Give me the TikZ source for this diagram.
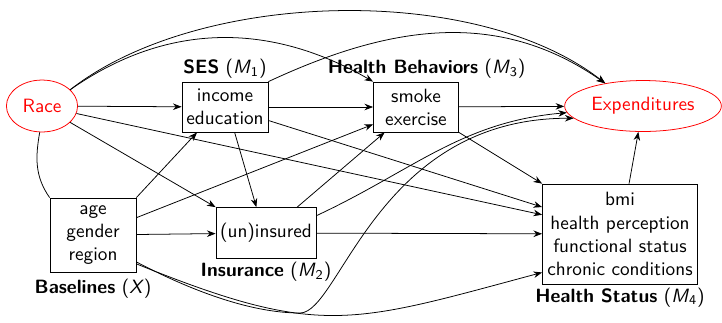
\documentclass[tikz,border=0pt]{standalone}
\usepackage{fontspec}
\usepackage{tikz}
\usetikzlibrary{positioning,shapes.geometric,arrows.meta}

\begin{document}
\begin{tikzpicture}[x=0.52pt,y=0.52pt,yscale=-1,xscale=1,
  font=\sffamily,
  box/.style={draw, align=center, inner sep=1pt},
  oval/.style={draw=red, text=red, ellipse, inner sep=1pt},
  lbl/.style={inner sep=1.5pt},
  arr/.style={-{Stealth[length=4.5pt,width=3.4pt]}}]
\useasboundingbox (0,0) rectangle (722,322);
% y runs downwards here, so angles and yshifts are mirrored

%Shape: Ellipse
\node [oval, minimum width=37pt, minimum height=27pt] (race) at (42,106) {Race};
%Shape: Ellipse
\node [oval, minimum width=81.5pt, minimum height=26.5pt] (exp) at (643,106) {Expenditures};
%Shape: Rectangle
\node [box, minimum width=44.7pt, minimum height=26pt] (ses) at (225,107) {income\\education};
%Shape: Rectangle
\node [box, minimum width=44.2pt, minimum height=26pt] (hb) at (416,107) {smoke\\exercise};
%Shape: Rectangle
\node [box, minimum width=44.7pt, minimum height=38.5pt] (base) at (93,235) {age\\gender\\region};
%Shape: Rectangle
\node [box, minimum width=52pt, minimum height=26.5pt] (ins) at (266,233) {(un)insured};
%Shape: Rectangle
\node [box, minimum width=80.6pt, minimum height=52pt] (hs) at (620,234) {bmi\\health perception\\functional status\\chronic conditions};

% Text Node
\node [lbl, above=0pt of ses] (seslbl) {\textbf{SES} (\textit{M}\textsubscript{1})};
% Text Node
\node [lbl, above=0pt of hb, xshift=5.5pt] (hblbl) {\textbf{Health Behaviors} (\textit{M}\textsubscript{3})};
% Text Node
\node [lbl, below=0pt of base, yshift=-2pt] (baselbl) {\textbf{Baselines} (\textit{X})};
% Text Node
\node [lbl, below=0pt of ins] (inslbl) {\textbf{Insurance} (\textit{M}\textsubscript{2})};
% Text Node
\node [lbl, below=0pt of hs] (hslbl) {\textbf{Health Status} (\textit{M}\textsubscript{4})};

%Straight Lines
\draw [arr] (race) -- (ses);
\draw [arr] (ses) -- (hb);
\draw [arr] (hb) -- (exp);
\draw [arr] (base) -- (ins);
\draw [arr] (ins) -- (hs);
\draw [arr] (hs) -- (exp);
\draw [arr] (race) -- (ins.north west);
\draw [arr] (race) -- ([yshift=-10pt]hs.west);
\draw [arr] ([yshift=7pt]ses.east) -- ([yshift=-14pt]hs.west);
\draw [arr] (hb.south east) -- (hs.north west);
\draw [arr] ([xshift=5pt]ses.south) -- ([xshift=-5pt]ins.north);
\draw [arr] (base.north east) -- ([xshift=8pt]ses.south west);
\draw [arr] ([yshift=-9pt]base.east) -- ([yshift=9pt]hb.west);
\draw [arr] ([xshift=-10pt]ins.north east) -- ([xshift=6pt]hb.south west);

%Curve Lines
\draw [arr] (race.30) to [out=-38,in=-142,looseness=0.78] (exp.149);
\draw [arr] (race.30) to [out=-35,in=-150] (hb.north west);
\draw [arr] (ses.north east) to [out=-25,in=-145] (exp.149);
\draw [arr] ([yshift=-9pt]ins.east) to [out=-25,in=175] (exp.185);
\draw [arr] ([yshift=14pt]base.east) .. controls (190,290) and (250,313) .. (300,313) .. controls (340,313) and (377,118) .. (exp.190);
\draw [arr] ([yshift=15pt]base.east) to [out=22,in=165,looseness=1.25] ([yshift=20pt]hs.west);
\draw (race.265) to [out=100,in=-125] (base.north west);
\end{tikzpicture}
\end{document}
